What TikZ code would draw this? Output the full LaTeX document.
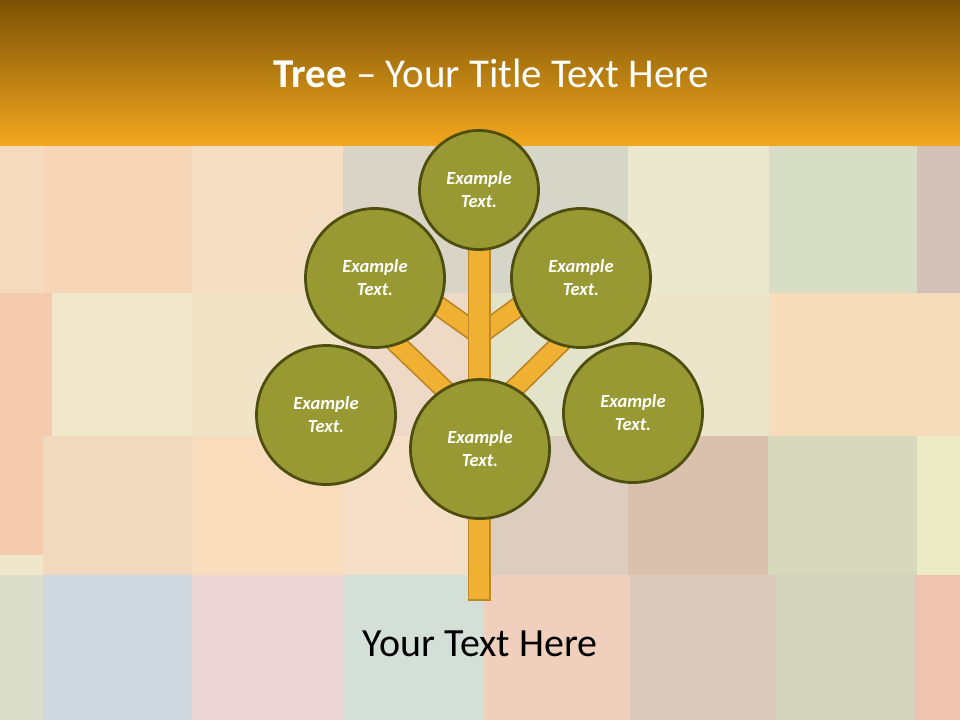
\documentclass[tikz,border=0pt]{standalone}
\usepackage{fontspec}
\setmainfont{Carlito}
\usetikzlibrary{backgrounds, positioning}
\definecolor{leaffill}{RGB}{153,153,51}
\definecolor{leafedge}{RGB}{78,78,16}
\definecolor{woodfill}{RGB}{240,176,50}
\definecolor{woodedge}{RGB}{188,136,42}
\definecolor{hdrtop}{RGB}{122,82,4}
\definecolor{hdrbot}{RGB}{242,168,30}

\begin{document}
\begin{tikzpicture}[x=1pt, y=-1pt,
    leaf/.style={circle, draw=leafedge, fill=leaffill, line width=2.8pt,
        minimum size=139pt, inner sep=0pt, align=center, text=white,
        font=\bfseries\itshape\fontsize{18.5}{23}\selectfont},
    limb/.style={draw=woodedge, line width=1.8pt, double=woodfill, double distance=17pt},
    trunk/.style={draw=woodedge, line width=1.8pt, fill=woodfill}]
\useasboundingbox (0,0) rectangle (960,720);

% patchwork background and header
\begin{scope}[on background layer]
\foreach \xa/\ya/\xb/\yb/\rgb in {
    0/145/43/293/{246,218,190}, 43/145/192/293/{246,214,182},
    192/145/343/293/{244,223,197}, 343/145/484/293/{217,212,197},
    484/145/628/293/{213,214,200}, 628/145/769/293/{236,232,206},
    769/145/917/293/{216,221,197}, 917/145/960/293/{212,194,184},
    0/293/52/436/{245,203,174}, 52/293/192/436/{241,231,202},
    192/293/343/436/{241,227,198}, 343/293/484/436/{238,217,198},
    484/293/628/436/{227,227,202}, 628/293/769/436/{236,229,202},
    769/293/960/436/{245,221,188},
    0/436/43/555/{245,203,174}, 0/555/43/575/{240,230,202},
    43/436/192/575/{240,217,188}, 192/436/343/575/{248,220,188},
    343/436/487/575/{245,223,198}, 487/436/628/575/{220,205,191},
    628/436/768/575/{217,193,174}, 768/436/917/575/{216,216,188},
    917/436/960/575/{236,235,198},
    0/575/43/720/{217,221,202}, 43/575/192/720/{208,217,223},
    192/575/343/720/{236,214,213}, 343/575/484/720/{212,223,216},
    484/575/630/720/{240,207,188}, 630/575/775/720/{217,202,188},
    775/575/915/720/{212,211,188}, 915/575/960/720/{240,195,176}}
{
    \definecolor{patch}{RGB}{\rgb}
    \fill[patch] (\xa,\ya) rectangle (\xb,\yb);
}
\shade[top color=hdrtop, bottom color=hdrbot] (0,0) rectangle (960,145);
\end{scope}

% leaves
\node[leaf, minimum size=119pt] (top) at (479,190) {Example\\Text.};
\node[leaf] (ul) at (375,278) {Example\\Text.};
\node[leaf] (ur) at (581,278) {Example\\Text.};
\node[leaf] (ll) at (326,415) {Example\\Text.};
\node[leaf] (lr) at (633,413) {Example\\Text.};
\node[leaf] (bot) at (480,449) {Example\\Text.};

\coordinate (jU) at (479.5,335);
\coordinate (jL) at (479.5,423);
\coordinate (root) at (479.5,600);

% branches and trunk
\begin{scope}[on background layer]
\draw[limb] (jU) -- ([shift={(0,-17)}]ul.center);
\draw[limb] (jU) -- ([shift={(0,-17)}]ur.center);
\draw[limb] (jL) -- ([shift={(0,45)}]ul.center);
\draw[limb] (jL) -- ([shift={(0,45)}]ur.center);
\draw[trunk] ([xshift=-10.5pt]top.center) rectangle ([xshift=10.5pt]root);
\end{scope}

\node[anchor=base, text=white, font=\fontsize{41}{45}\selectfont] (title) at (491,87)
    {\textbf{Tree} -- Your Title Text Here};
\node[anchor=base, font=\fontsize{40}{44}\selectfont] (caption) at (480,656) {Your Text Here};
\end{tikzpicture}
\end{document}
